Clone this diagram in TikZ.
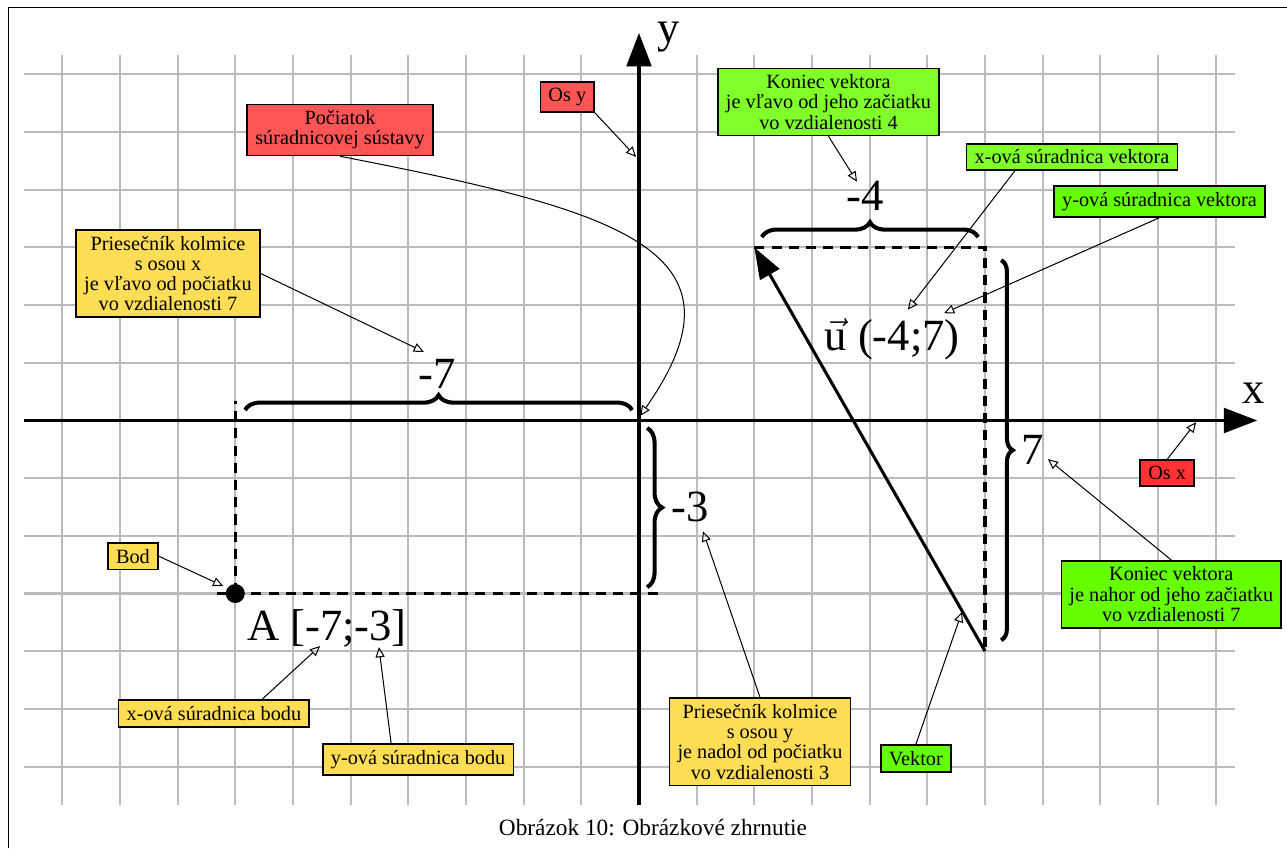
\documentclass[tikz,border=0pt]{standalone}
\usepackage{amsmath}
\usepackage{fontspec}
\setmainfont{Liberation Serif}
\usetikzlibrary{arrows.meta,decorations.pathreplacing,positioning}
\definecolor{redbox}{HTML}{FF5555}
\definecolor{redaxis}{HTML}{FF3333}
\definecolor{greenbox}{HTML}{80FF2A}
\definecolor{greenvec}{HTML}{66FF00}
\definecolor{yellowbox}{HTML}{FFDD55}
\definecolor{gridgray}{HTML}{BBBBBB}

\tikzset{
  gridline/.style={draw=gridgray, line width=1pt},
  axisline/.style={line width=1.5pt, -{Triangle[length=0.58cm,width=0.43cm]}},
  vectorline/.style={line width=1.5pt, -{Triangle[length=0.54cm,width=0.38cm]}},
  helper/.style={line width=1.6pt, dash pattern=on 5pt off 3.5pt},
  infobox/.style={draw, line width=0.8pt, inner xsep=4pt, inner ysep=3pt, align=center, font=\fontsize{10}{10}\selectfont},
  biglabel/.style={font=\fontsize{22}{26}\selectfont, inner sep=0pt},
  pointer/.style={line width=0.5pt, -{Triangle[open,length=5pt,width=4.5pt]}},
  bracket/.style={decorate, decoration={brace, amplitude=#1}, line width=2pt},
}

\begin{document}
\begin{tikzpicture}
  \useasboundingbox (-11.08,-7.413) rectangle (11.236,7.291);
  % frame
  \draw[line width=0.5pt] (-10.924,-7.413) -- (-10.924,7.153) -- (11.236,7.153);

  % grid
  \foreach \i in {-10,...,10} \draw[gridline] (\i,-6.67) -- (\i,6.34);
  \foreach \j in {-6,...,6} \draw[gridline] (-10.66,\j) -- (10.33,\j);

  % axes
  \coordinate (O) at (0,0);
  \coordinate (xend) at (10.72,0);
  \coordinate (yend) at (0,6.72);
  \draw[axisline] (-10.66,0) -- (xend);
  \draw[axisline] (0,-6.67) -- (yend);
  \node[biglabel, anchor=base] (xlab) at (10.65,0.30) {x};
  \node[biglabel, anchor=base] (ylab) at (0.51,6.56) {y};

  % point A
  \coordinate (A) at (-7,-3);
  \draw[helper] (-7.32,-3) -- (0.33,-3);
  \draw[helper] (A) -- (-7,0.33);
  \fill (A) circle (0.165);
  \node[biglabel] (alab) at (-5.41,-3.61) {A [-7;-3]};
  \draw[bracket=0.26cm] (-6.83,0.18) -- (-0.12,0.18);
  \node[biglabel] (m7) at (-3.5,0.81) {-7};
  \draw[bracket=0.26cm] (0.14,-0.13) -- (0.14,-2.89);
  \node[biglabel, anchor=west] (m3) at (0.56,-1.50) {-3};

  % vector u
  \coordinate (U1) at (6,-4);
  \coordinate (U2) at (2,3);
  \draw[helper] (U2) -- (6,3) -- (U1);
  \draw[vectorline] (U1) -- (U2);
  \draw[bracket=0.26cm] (2.13,3.18) -- (5.88,3.18);
  \node[biglabel] (m4) at (3.92,3.89) {-4};
  \draw[bracket=0.2cm] (6.28,2.78) -- (6.28,-3.81);
  \node[biglabel] (p7) at (6.83,-0.51) {7};
  \node[biglabel] (ulab) at (4.39,1.41) {$\vec{\text{u}}$ (-4;7)};

  % boxes
  \node[infobox, fill=redbox] (pociatok) at (-5.185,5.037) {Počiatok\\súradnicovej sústavy};
  \node[infobox, fill=redbox] (osy) at (-1.243,5.606) {Os y};
  \node[infobox, fill=redaxis] (osx) at (9.159,-0.910) {Os x};
  \node[infobox, fill=yellowbox] (prx) at (-8.167,2.549) {Priesečník kolmice\\s osou x\\je vľavo od počiatku\\vo vzdialenosti 7};
  \node[infobox, fill=yellowbox] (bod) at (-8.774,-2.353) {Bod};
  \node[infobox, fill=yellowbox] (xbodu) at (-7.37,-5.08) {x-ová súradnica bodu};
  \node[infobox, fill=yellowbox] (ybodu) at (-3.83,-5.88) {y-ová súradnica bodu};
  \node[infobox, fill=yellowbox] (pry) at (2.098,-5.57) {Priesečník kolmice\\s osou y\\je nadol od počiatku\\vo vzdialenosti 3};
  \node[infobox, fill=greenvec] (vektor) at (4.80,-5.86) {Vektor};
  \node[infobox, fill=greenbox] (kon4) at (3.286,5.523) {Koniec vektora\\je vľavo od jeho začiatku\\vo vzdialenosti 4};
  \node[infobox, fill=greenbox] (xvek) at (7.508,4.569) {x-ová súradnica vektora};
  \node[infobox, fill=greenvec] (yvek) at (9.025,3.797) {y-ová súradnica vektora};
  \node[infobox, fill=greenvec] (kon7) at (9.23,-3.014) {Koniec vektora\\je nahor od jeho začiatku\\vo vzdialenosti 7};

  % pointer targets
  \coordinate (tO) at (0.02,0.08);
  \coordinate (tY) at (-0.05,4.57);
  \coordinate (t4) at (3.78,4.14);
  \coordinate (tux) at (4.66,1.92);
  \coordinate (tuy) at (5.29,1.86);
  \coordinate (tX) at (9.66,-0.03);
  \coordinate (t7) at (7.09,-0.67);
  \coordinate (tvek) at (5.60,-3.32);
  \coordinate (t3) at (1.11,-1.92);
  \coordinate (tay) at (-4.51,-3.93);
  \coordinate (tax) at (-5.53,-3.91);
  \coordinate (tm7) at (-3.73,1.19);
  \coordinate (tA) at (-7.21,-2.87);

  % pointers
  \draw[pointer] (pociatok.south) .. controls +(-11:5) and +(55:3.5) .. (tO);
  \draw[pointer] (osy.south east) -- (tY);
  \draw[pointer] (kon4.south) -- (t4);
  \draw[pointer] ([xshift=0.85cm]xvek.south west) -- (tux);
  \draw[pointer] (yvek.south) -- (tuy);
  \draw[pointer] (osx.north) -- (tX);
  \draw[pointer] (kon7.north) -- (t7);
  \draw[pointer] (vektor.north) -- (tvek);
  \draw[pointer] (pry.north) -- (t3);
  \draw[pointer] ([xshift=1.2cm]ybodu.north west) -- (tay);
  \draw[pointer] ([xshift=2.5cm]xbodu.north west) -- (tax);
  \draw[pointer] (prx.east) -- (tm7);
  \draw[pointer] (bod.east) -- (tA);

  \node[font=\fontsize{11.5}{14}\selectfont] (caption) at (0.243,-7.05) {Obrázok 10: Obrázkové zhrnutie};
\end{tikzpicture}
\end{document}
